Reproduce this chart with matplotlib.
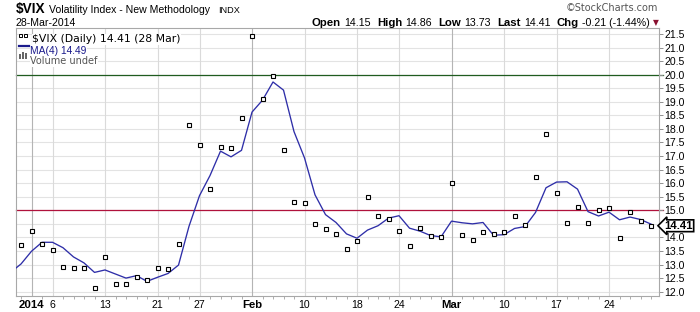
import matplotlib
matplotlib.use("Agg")
import matplotlib.pyplot as plt
import matplotlib.transforms as mtransforms
from matplotlib.patches import Rectangle
import numpy as np

W, H = 700, 312

# ---------------- data ----------------
trading_days = [
    "2013-12-31",
    "2014-01-02", "2014-01-03", "2014-01-06", "2014-01-07", "2014-01-08", "2014-01-09",
    "2014-01-10", "2014-01-13", "2014-01-14", "2014-01-15", "2014-01-16", "2014-01-17",
    "2014-01-21", "2014-01-22", "2014-01-23", "2014-01-24", "2014-01-27", "2014-01-28",
    "2014-01-29", "2014-01-30", "2014-01-31",
    "2014-02-03", "2014-02-04", "2014-02-05", "2014-02-06", "2014-02-07", "2014-02-10",
    "2014-02-11", "2014-02-12", "2014-02-13", "2014-02-14", "2014-02-18", "2014-02-19",
    "2014-02-20", "2014-02-21", "2014-02-24", "2014-02-25", "2014-02-26", "2014-02-27",
    "2014-02-28",
    "2014-03-03", "2014-03-04", "2014-03-05", "2014-03-06", "2014-03-07", "2014-03-10",
    "2014-03-11", "2014-03-12", "2014-03-13", "2014-03-14", "2014-03-17", "2014-03-18",
    "2014-03-19", "2014-03-20", "2014-03-21", "2014-03-24", "2014-03-25", "2014-03-26",
    "2014-03-27", "2014-03-28",
]

vix_close = [
    13.72,
    14.23, 13.76, 13.55, 12.92, 12.87, 12.89, 12.14, 13.28, 12.28, 12.28, 12.53, 12.44,
    12.87, 12.84, 13.77, 18.14, 17.42, 15.80, 17.35, 17.29, 18.41,
    21.44, 19.11, 19.95, 17.23, 15.29, 15.26, 14.51, 14.30, 14.14, 13.57, 13.87, 15.50,
    14.79, 14.68, 14.23, 13.67, 14.35, 14.04, 14.00,
    16.00, 14.10, 13.89, 14.21, 14.11, 14.20, 14.80, 14.47, 16.22, 17.82, 15.64, 14.52,
    15.12, 14.52, 15.00, 15.09, 13.98, 14.93, 14.62, 14.41,
]

# MA(4) values, starting one session earlier (2013-12-30)
ma4_values = [
    12.71,
    13.02,
    13.49, 13.82, 13.82, 13.62, 13.28, 13.06, 12.71, 12.80, 12.65, 12.50, 12.59, 12.38,
    12.53, 12.67, 12.98, 14.41, 15.54, 16.28, 17.18, 16.97, 17.21,
    18.62, 19.06, 19.73, 19.43, 17.90, 16.93, 15.57, 14.84, 14.55, 14.13, 13.97, 14.27,
    14.43, 14.71, 14.80, 14.34, 14.23, 14.07, 14.02,
    14.60, 14.54, 14.50, 14.55, 14.08, 14.10, 14.33, 14.40, 14.92, 15.83, 16.04, 16.05,
    15.78, 14.95, 14.79, 14.93, 14.65, 14.75, 14.66, 14.49,
]

xtick_days = ["2014-01-02", "2014-01-06", "2014-01-13", "2014-01-21", "2014-01-27",
              "2014-02-03", "2014-02-10", "2014-02-18", "2014-02-24",
              "2014-03-03", "2014-03-10", "2014-03-17", "2014-03-24"]
xtick_labels = ["2014", "6", "13", "21", "27", "Feb", "10", "18", "24", "Mar", "10", "17", "24"]
month_labels = ["2014", "Feb", "Mar"]

ytick_values = [12.0, 12.5, 13.0, 13.5, 14.0, 14.5, 15.0, 15.5, 16.0, 16.5, 17.0, 17.5,
                18.0, 18.5, 19.0, 19.5, 20.0, 20.5, 21.0, 21.5]
hidden_ytick = 14.5   # covered by the last-value tag in the reference
ref_upper = 20.0
ref_lower = 15.0

header_pieces = [("Open", True), ("14.15", False), ("High", True), ("14.86", False),
                 ("Low", True), ("13.73", False), ("Last", True), ("14.41", False),
                 ("Chg", True), ("-0.21 (-1.44%)", False)]
last_value = "14.41"
ma_last = "14.49"

# ---------------- figure ----------------
FONT = "Liberation Sans"
fig = plt.figure(figsize=(W / 100, H / 100), dpi=100)
fig.patch.set_facecolor("white")

def fx(x):
    return x / W

def fy(y):
    return 1 - y / H

ax_l, ax_r, ax_t, ax_b = 15.7, 659.0, 28.0, 296.0
ax = fig.add_axes([fx(ax_l), fy(ax_b), (ax_r - ax_l) / W, (ax_b - ax_t) / H])

x = np.arange(len(vix_close))
ma_x = np.arange(-1, len(vix_close))

ax.set_xlim(-0.505, 60.76)
ax.set_ylim(11.84, 21.72)

# gridlines
for v in ytick_values:
    ax.axhline(v, color="#e3e3e3", lw=0.8, zorder=0)
xt_pos = [trading_days.index(d) for d in xtick_days]
for p, lab in zip(xt_pos, xtick_labels):
    col = "#b4b4b4" if lab in month_labels else "#dadada"
    ax.axvline(p, color=col, lw=0.8, zorder=0)

ax.axhline(ref_upper, xmin=0, xmax=1.006, color="#1f5c1f", lw=0.9, zorder=1, clip_on=False)
ax.axhline(ref_lower, xmin=0, xmax=1.006, color="#b0123c", lw=0.9, zorder=1, clip_on=False)

ax.plot(ma_x, ma4_values, color="#2e2ea8", lw=0.95, zorder=3)
ax.plot(x, vix_close, linestyle="none", marker="s", markersize=2.4,
        markerfacecolor="white", markeredgecolor="black", markeredgewidth=0.8, zorder=4)

for s in ax.spines.values():
    s.set_color("#a8a8a8")
    s.set_linewidth(0.8)

ax.yaxis.tick_right()
ax.set_yticks(ytick_values)
ax.set_yticklabels(["" if v == hidden_ytick else f"{v:.1f}" for v in ytick_values],
                   fontfamily=FONT, fontsize=7.6)
ax.tick_params(axis="y", direction="out", length=3, width=0.7, color="#909090", pad=1)

ax.set_xticks(xt_pos)
ax.set_xticklabels(xtick_labels, fontfamily=FONT, fontsize=7.6)
for t in ax.get_xticklabels():
    if t.get_text() in month_labels:
        t.set_fontweight("bold")
        t.set_fontsize(8.2)
ax.set_xticks(x, minor=True)
ax.tick_params(axis="x", which="major", direction="out", length=0, pad=3)
ax.tick_params(axis="x", which="minor", direction="out", length=2, width=0.6, color="#a0a0a0")

# last value tag
trans = mtransforms.blended_transform_factory(ax.transAxes, ax.transData)
ax.text(1.008, vix_close[-1] + 0.02, last_value, transform=trans, ha="left", va="center",
        fontfamily=FONT, fontsize=8.2, fontweight="bold", color="black", zorder=6,
        clip_on=False,
        bbox=dict(boxstyle="larrow,pad=0.08", facecolor="white", edgecolor="black", lw=1.2))

# legend (inside top-left)
ax.text(0.0255, 0.977, f"$VIX (Daily) {last_value} (28 Mar)", transform=ax.transAxes,
        ha="left", va="top", fontfamily="DejaVu Sans", fontsize=7.8, color="black", zorder=7,
        bbox=dict(boxstyle="square,pad=0.05", facecolor="white", edgecolor="none"))
ax.text(0.0225, 0.934, f"MA(4) {ma_last}", transform=ax.transAxes,
        ha="left", va="top", fontfamily=FONT, fontsize=7.4, color="#1a1a8c", zorder=7,
        bbox=dict(boxstyle="square,pad=0.05", facecolor="white", edgecolor="none"))
ax.text(0.0225, 0.895, "Volume undef", transform=ax.transAxes,
        ha="left", va="top", fontfamily="DejaVu Sans", fontsize=7.0, color="#555555", zorder=7,
        bbox=dict(boxstyle="square,pad=0.05", facecolor="white", edgecolor="none"))
# legend icons
fig.add_artist(Rectangle((fx(19), fy(37)), 3 / W, 3 / H, fill=False, ec="black", lw=0.7))
fig.add_artist(Rectangle((fx(24), fy(37)), 3 / W, 3 / H, fill=False, ec="black", lw=0.7))
fig.add_artist(plt.Line2D([fx(19), fx(29)], [fy(46), fy(46)], color="#1a1a8c", lw=1.6))
for i, hh in enumerate([5, 7, 6]):
    fig.add_artist(Rectangle((fx(19 + 3 * i), fy(59)), 2 / W, hh / H, fc="#666666", ec="none"))

# ---------------- header ----------------
fig.text(fx(16), fy(13), "$VIX", fontfamily=FONT, fontsize=9.8, fontweight="bold",
         ha="left", va="baseline")
fig.text(fx(49), fy(13), "Volatility Index - New Methodology", fontfamily=FONT, fontsize=7.6,
         ha="left", va="baseline")
fig.text(fx(218), fy(13), "INDX", fontfamily=FONT, fontsize=6.6, ha="left", va="baseline")
fig.text(fx(16), fy(25.5), "28-Mar-2014", fontfamily=FONT, fontsize=7.6, ha="left",
         va="baseline")
fig.text(fx(658), fy(11), "\u00a9StockCharts.com", fontfamily="DejaVu Sans", fontsize=7.0,
         color="#555555", ha="right", va="baseline")

renderer = fig.canvas.get_renderer()
cx = 312.0
for i, (s, bold) in enumerate(header_pieces):
    t = fig.text(fx(cx), fy(25.5), s, fontfamily=FONT, fontsize=8.2 if bold else 7.7,
                 fontweight="bold" if bold else "normal", ha="left", va="baseline")
    w = t.get_window_extent(renderer=renderer).width
    cx += w + (3.0 if bold else 6.5)
fig.text(fx(cx - 3.5), fy(25), "\u25bc", fontfamily="DejaVu Sans", fontsize=5.5,
         color="#8a1030", ha="left", va="baseline")

fig.savefig("out.png", dpi=100, facecolor="white")
